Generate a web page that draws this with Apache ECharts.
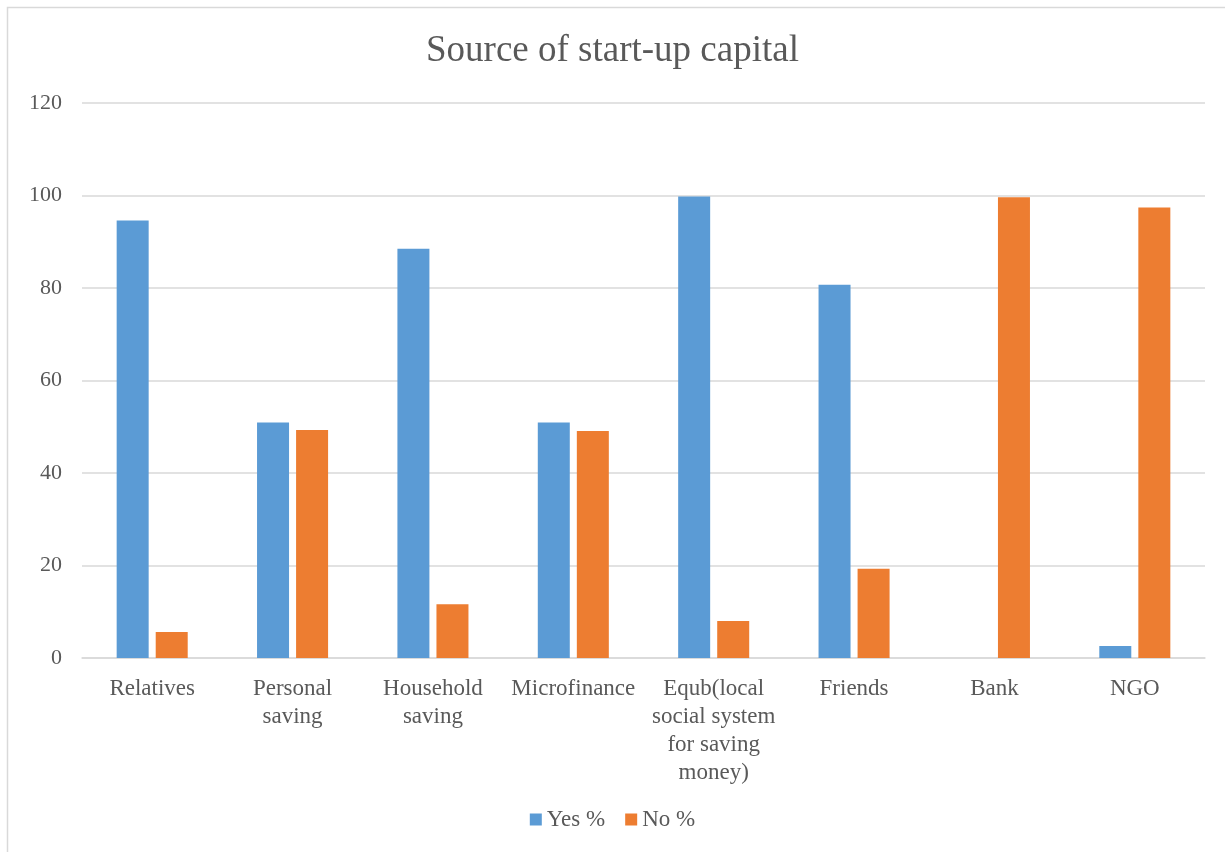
<!DOCTYPE html>
<html>
<head>
<meta charset="utf-8">
<script src="https://cdn.jsdelivr.net/npm/echarts@6/dist/echarts.min.js"></script>
<style>
  html, body { margin: 0; padding: 0; background: #fff; }
  #chart { width: 1225px; height: 852px; }
</style>
</head>
<body>
<div id="chart"></div>
<script>
// Source of start-up capital

const categories = [
  'Relatives',
  'Personal\nsaving',
  'Household\nsaving',
  'Microfinance',
  'Equb(local\nsocial system\nfor saving\nmoney)',
  'Friends',
  'Bank',
  'NGO'
]

const yesPct = [94.6, 50.9, 88.5, 50.9, 99.8, 80.7, 0, 2.6]
const noPct  = [5.6, 49.3, 11.6, 49.1, 8.0, 19.3, 99.6, 97.4]

const yTicks = [0, 20, 40, 60, 80, 100, 120]

const FONT = '"Liberation Serif", "Times New Roman", serif'
const TEXT = '#595959'

const chart = echarts.init(document.getElementById('chart'))

chart.setOption({
  animation: false,
  backgroundColor: '#fff',
  textStyle: { fontFamily: FONT },
  title: {
    text: 'Source of start-up capital',
    left: 'center',
    top: 28,
    textStyle: { fontFamily: FONT, fontSize: 37, fontWeight: 'normal', color: TEXT }
  },
  // thin frame round the chart, as in the reference
  graphic: [{
    type: 'rect',
    shape: { x: 7.5, y: 7.5, width: 1240, height: 870 },
    style: { fill: 'none', stroke: '#d9d9d9', lineWidth: 1.5 },
    silent: true
  }],
  legend: {
    bottom: 16,
    left: 'center',
    itemWidth: 12,
    itemHeight: 12,
    itemGap: 20,
    icon: 'rect',
    textStyle: { fontFamily: FONT, fontSize: 23, color: TEXT },
    data: ['Yes %', 'No %']
  },
  grid: { left: 82, right: 20, top: 103, bottom: 194 },
  xAxis: {
    type: 'category',
    data: categories,
    axisTick: { show: false },
    axisLine: { lineStyle: { color: '#d9d9d9', width: 1.5 } },
    axisLabel: {
      interval: 0,
      margin: 17,
      fontFamily: FONT,
      fontSize: 23,
      lineHeight: 28,
      color: TEXT,
      verticalAlign: 'top'
    }
  },
  yAxis: {
    type: 'value',
    min: yTicks[0],
    max: yTicks[yTicks.length - 1],
    interval: 20,
    axisLine: { show: false },
    axisTick: { show: false },
    splitLine: { lineStyle: { color: '#d9d9d9', width: 1.5 } },
    axisLabel: { fontFamily: FONT, fontSize: 22, color: TEXT, margin: 20 }
  },
  series: [
    {
      name: 'Yes %',
      type: 'bar',
      data: yesPct,
      itemStyle: { color: '#5b9bd5' },
      barWidth: 32,
      barGap: '22%'
    },
    {
      name: 'No %',
      type: 'bar',
      data: noPct,
      itemStyle: { color: '#ed7d31' },
      barWidth: 32,
      barGap: '22%'
    }
  ]
})
</script>
</body>
</html>
